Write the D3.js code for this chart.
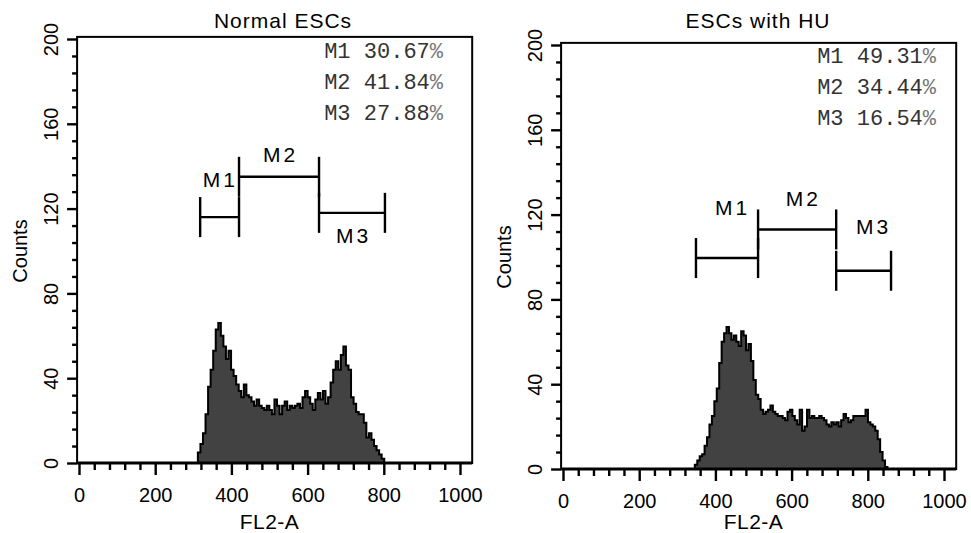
<!DOCTYPE html>
<html>
<head>
<meta charset="utf-8">
<script src="https://cdn.jsdelivr.net/npm/d3@7"></script>
<style>
  body { margin: 0; background: #fff; }
  svg { display: block; font-family: "Liberation Sans", Arial, sans-serif; }
</style>
</head>
<body>
<svg id="chart" width="971" height="533"></svg>
<script>
// histogram counts (one value per channel bin)
const normalStart = 312, normalBin = 6.7;
const normalCounts = [5,9,14,23,36,44,53,63,66,60,55,49,53,44,41,37,34,31,37,32,31,29,27,30,27,26,25,27,25,23,
  30,27,23,27,29,25,27,26,27,28,26,31,34,31,28,25,30,33,30,34,28,31,38,44,48,44,51,55,46,44,
  31,28,24,23,23,19,12,14,11,8,6,4,2];

const huStart = 346, huBin = 6.4;
const huCounts = [2,4,6,7,11,15,21,25,32,38,50,60,64,67,64,61,63,60,58,65,63,56,59,51,42,35,33,28,26,27,
  28,30,27,26,25,25,24,23,27,28,25,23,21,28,18,20,28,24,25,24,24,25,24,23,21,20,22,21,22,20,
  23,26,24,22,23,25,25,25,25,25,28,22,21,20,18,14,8,4,1];

// marker gates: FL2-A range and the count level the bar is drawn at
const normalGates = [
  {name: "M1", from: 318, to: 420, level: 116},
  {name: "M2", from: 420, to: 630, level: 135},
  {name: "M3", from: 630, to: 803, level: 118}
];
const normalGateLabels = [[367, 130], [525, 142], [717, 104]];

const huGates = [
  {name: "M1", from: 349, to: 512, level: 99.5},
  {name: "M2", from: 512, to: 717, level: 113},
  {name: "M3", from: 717, to: 861, level: 93.5}
];
const huGateLabels = [[441, 120], [627, 124], [811, 111]];

const normalPct = ["30.67", "41.84", "27.88"];
const huPct = ["49.31", "34.44", "16.54"];

const xTicks = [0, 200, 400, 600, 800, 1000];
const yTicks = [0, 40, 80, 120, 160, 200];

const svg = d3.select("#chart");

function buildPanel(opt) {
  const x = d3.scaleLinear().domain([0, 1000]).range([opt.left, opt.left + 381]);
  const y = d3.scaleLinear().domain([0, 200]).range([opt.bottom, opt.bottom - 424]);

  const g = svg.append("g");

  // histogram
  const pts = [{v: opt.start, c: 0}];
  opt.counts.forEach((c, i) => pts.push({v: opt.start + i * opt.bin, c: c}));
  pts.push({v: opt.start + opt.counts.length * opt.bin, c: 0});

  const area = d3.area()
    .x(d => x(d.v))
    .y0(y(0))
    .y1(d => y(d.c))
    .curve(d3.curveStepAfter);
  const line = d3.line()
    .x(d => x(d.v))
    .y(d => y(d.c))
    .curve(d3.curveStepAfter);

  g.append("path").attr("d", area(pts)).attr("fill", "#424242");
  g.append("path").attr("d", line(pts))
    .attr("fill", "none").attr("stroke", "#000").attr("stroke-width", 2);

  // frame
  const fx0 = x(-5), fx1 = x(1032), fy0 = y(201), fy1 = y(0);
  g.append("rect")
    .attr("x", fx0).attr("y", fy0)
    .attr("width", fx1 - fx0).attr("height", fy1 - fy0)
    .attr("fill", "none").attr("stroke", "#000").attr("stroke-width", 2);
  g.append("line")
    .attr("x1", fx0).attr("x2", fx1).attr("y1", fy1).attr("y2", fy1)
    .attr("stroke", "#000").attr("stroke-width", 3.2);

  // y axis
  const yMajor = g.append("g").attr("transform", `translate(${fx0},0)`)
    .call(d3.axisLeft(y).tickValues(yTicks).tickSize(10).tickFormat(d3.format("d")));
  g.append("g").attr("transform", `translate(${fx0},0)`)
    .call(d3.axisLeft(y).tickValues(d3.range(0, 201, 8).filter(v => v % 40)).tickSize(5).tickFormat(""));

  yMajor.selectAll("text")
    .attr("transform", "rotate(-90)")
    .attr("x", 0).attr("y", -19).attr("dy", 0)
    .attr("text-anchor", "middle");

  // x axis
  const xMajor = g.append("g").attr("transform", `translate(0,${fy1})`)
    .call(d3.axisBottom(x).tickValues(xTicks).tickSize(12).tickFormat(d3.format("d")));
  g.append("g").attr("transform", `translate(0,${fy1})`)
    .call(d3.axisBottom(x).tickValues(d3.range(0, 1001, 40).filter(v => v % 200)).tickSize(7).tickFormat(""));

  xMajor.selectAll("text").attr("y", 39).attr("dy", 0);

  g.selectAll(".domain").remove();
  g.selectAll(".tick line").attr("stroke", "#000").attr("stroke-width", 2.4);
  g.selectAll(".tick text")
    .attr("fill", "#000")
    .style("font-family", "'Liberation Sans', Arial, sans-serif")
    .style("font-size", "20px");

  // axis labels
  g.append("text")
    .attr("x", x(500)).attr("y", opt.xLabelY)
    .attr("text-anchor", "middle")
    .attr("font-size", "21px")
    .attr("letter-spacing", "0.5px")
    .text("FL2-A");

  g.append("text")
    .attr("transform", `translate(${x(0) - 52},${y(100)}) rotate(-90)`)
    .attr("text-anchor", "middle")
    .attr("font-size", "20px")
    .text("Counts");

  g.append("text")
    .attr("x", opt.titleX).attr("y", 28)
    .attr("text-anchor", "middle")
    .attr("font-size", "21px")
    .attr("letter-spacing", "1px")
    .text(opt.title);

  // marker gates
  opt.gates.forEach((m, i) => {
    const yy = y(m.level);
    g.append("line")
      .attr("x1", x(m.from)).attr("x2", x(m.to)).attr("y1", yy).attr("y2", yy)
      .attr("stroke", "#000").attr("stroke-width", 2.4);
    [m.from, m.to].forEach(v => {
      g.append("line")
        .attr("x1", x(v)).attr("x2", x(v)).attr("y1", yy - 20).attr("y2", yy + 20)
        .attr("stroke", "#000").attr("stroke-width", 2.4);
    });
    const lab = opt.gateLabels[i];
    g.append("text")
      .attr("x", x(lab[0]) + 1.5).attr("y", y(lab[1]))
      .attr("text-anchor", "middle")
      .attr("font-size", "21px")
      .attr("letter-spacing", "3px")
      .text(m.name);
  });

  // percentages box
  opt.pct.forEach((p, i) => {
    const t = g.append("text")
      .attr("x", opt.statsRight).attr("y", opt.statsTop + i * 31)
      .attr("text-anchor", "end")
      .style("font-family", "'Liberation Mono', 'Courier New', monospace")
      .attr("font-size", "22px")
      .attr("fill", "#333");
    t.append("tspan").text(opt.gates[i].name + " " + p);
    t.append("tspan").attr("fill", "#777").text("%");
  });
}

buildPanel({
  left: 79, bottom: 463, title: "Normal ESCs", titleX: 283, xLabelY: 529,
  start: normalStart, bin: normalBin, counts: normalCounts,
  gates: normalGates, gateLabels: normalGateLabels,
  pct: normalPct, statsRight: 443, statsTop: 58
});

buildPanel({
  left: 563, bottom: 469, title: "ESCs with HU", titleX: 758, xLabelY: 529,
  start: huStart, bin: huBin, counts: huCounts,
  gates: huGates, gateLabels: huGateLabels,
  pct: huPct, statsRight: 936, statsTop: 63
});
</script>
</body>
</html>
